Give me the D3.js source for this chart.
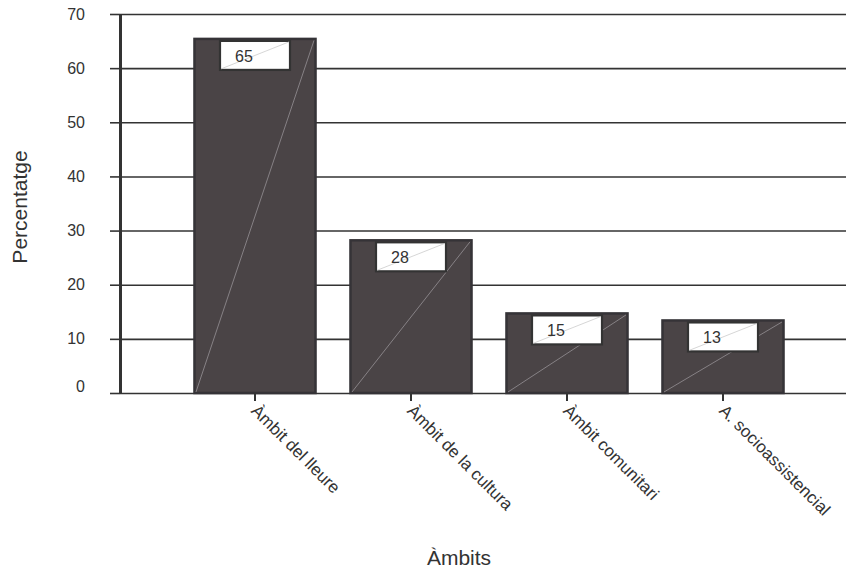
<!DOCTYPE html>
<html>
<head>
<meta charset="utf-8">
<script src="https://cdn.jsdelivr.net/npm/d3@7/dist/d3.min.js"></script>
<style>
  html, body { margin: 0; padding: 0; background: #fff; }
  svg { display: block; font-family: "Liberation Sans", Arial, sans-serif; }
</style>
</head>
<body>
<svg id="chart" width="846" height="568"></svg>
<script>
const categories = ["Àmbit del lleure", "Àmbit de la cultura", "Àmbit comunitari", "A. socioassistencial"];
const values = [65.4, 28.2, 14.7, 13.4];
const valueLabels = ["65", "28", "15", "13"];
const yTicks = [0, 10, 20, 30, 40, 50, 60, 70];
const yTitle = "Percentatge";
const xTitle = "Àmbits";

(function () {
const svg = d3.select("#chart");
const plotLeft = 120, plotRight = 846, plotTop = 14, plotBottom = 393;
const ink = "#333";

const y = d3.scaleLinear().domain([0, 70]).range([plotBottom, plotTop]);
const x = d3.scaleBand().domain(categories).range([177, 801]).paddingInner(0.224).paddingOuter(0.112);

// gridlines
svg.append("g")
  .attr("transform", `translate(${plotLeft},0)`)
  .call(d3.axisLeft(y).tickValues(yTicks).tickSize(-(plotRight - plotLeft)).tickFormat(""))
  .call(g => g.select(".domain").remove())
  .call(g => g.selectAll("line").attr("stroke", ink).attr("stroke-width", 1.6));

// bars
const bars = svg.append("g").selectAll("g").data(categories).join("g");
bars.append("rect")
  .attr("x", d => x(d))
  .attr("y", (d, i) => y(values[i]))
  .attr("width", x.bandwidth())
  .attr("height", (d, i) => y(0) - y(values[i]))
  .attr("fill", "#4a4446")
  .attr("stroke", "#353337")
  .attr("stroke-width", 2.5);
bars.append("line")
  .attr("x1", d => x(d) + 1.5)
  .attr("y1", y(0) - 1)
  .attr("x2", d => x(d) + x.bandwidth() - 1.5)
  .attr("y2", (d, i) => y(values[i]) + 1.5)
  .attr("stroke", "#a09ca0")
  .attr("stroke-width", 0.7);

// value label boxes
const bw = 70, bh = 29;
const boxes = bars.append("g")
  .attr("transform", (d, i) => `translate(${x(d) + x.bandwidth() / 2 - bw / 2},${y(values[i]) + 2})`);
boxes.append("rect")
  .attr("width", bw).attr("height", bh)
  .attr("fill", "#fff").attr("stroke", ink).attr("stroke-width", 2.2);
boxes.append("line")
  .attr("x1", 1).attr("y1", bh - 1).attr("x2", bw - 1).attr("y2", 1)
  .attr("stroke", "#c4c4c4").attr("stroke-width", 0.7);
boxes.append("text")
  .attr("x", 15).attr("y", 21)
  .attr("font-size", 16).attr("fill", ink)
  .text((d, i) => valueLabels[i]);

// y axis
svg.append("g")
  .attr("transform", `translate(${plotLeft},0)`)
  .call(d3.axisLeft(y).tickValues(yTicks).tickSize(10).tickSizeOuter(0).tickPadding(25))
  .call(g => g.select(".domain").attr("stroke", ink).attr("stroke-width", 3))
  .call(g => g.selectAll(".tick line").attr("stroke", ink).attr("stroke-width", 1.6))
  .call(g => g.selectAll(".tick text").attr("fill", ink).attr("font-size", 16)
    .attr("font-family", "Liberation Sans, Arial, sans-serif")
    .attr("dy", d => d === 0 ? "-0.1em" : "0.32em"));

// x axis
svg.append("g")
  .attr("transform", `translate(0,${plotBottom})`)
  .call(d3.axisBottom(x).tickSize(8).tickSizeOuter(0).tickPadding(0))
  .call(g => g.select(".domain").remove())
  .call(g => g.selectAll(".tick line").attr("stroke", ink).attr("stroke-width", 2))
  .call(g => g.selectAll(".tick text")
    .attr("fill", ink).attr("font-size", 17)
    .attr("font-family", "Liberation Sans, Arial, sans-serif")
    .attr("text-anchor", "start")
    .attr("transform", "translate(4,10) rotate(45)")
    .attr("x", 0).attr("y", 0).attr("dy", "0.72em"));

// axis titles
svg.append("text")
  .attr("transform", `translate(27,207) rotate(-90)`)
  .attr("text-anchor", "middle")
  .attr("font-size", 21).attr("fill", ink)
  .text(yTitle);
svg.append("text")
  .attr("x", 459).attr("y", 565)
  .attr("text-anchor", "middle")
  .attr("font-size", 21).attr("fill", ink)
  .text(xTitle);
})();
</script>
</body>
</html>
